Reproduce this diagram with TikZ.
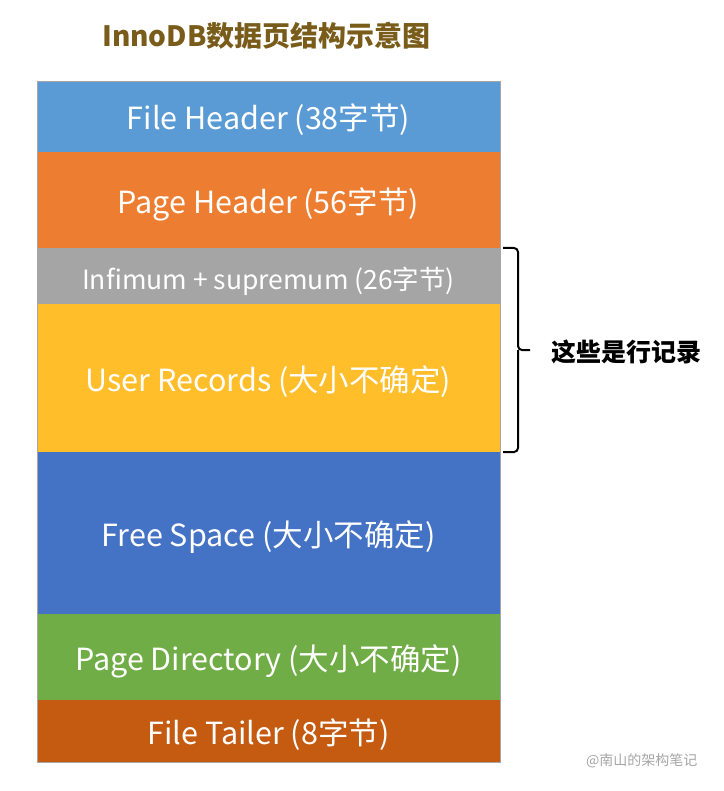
\documentclass[tikz,border=0pt]{standalone}
\usepackage{fontspec}
\setmainfont{Noto Sans CJK SC}
\usetikzlibrary{calc}
\begin{document}
\begin{tikzpicture}[x=1pt,y=-1pt,
  seg/.style={anchor=north west, minimum width=463pt, inner sep=0pt, outer sep=0pt, text=white, font=\fontsize{30.5}{34}\selectfont, text height=33pt, text depth=6pt},
  lbl/.style={font=\bfseries\fontsize{25}{28}\selectfont, text=black, anchor=west, inner sep=0pt}]
\useasboundingbox (0,0) rectangle (723,791);
\fill[white] (0,0) rectangle (723,791);
\node[font=\bfseries\fontsize{28}{31}\selectfont, text={rgb,255:red,122;green,92;blue,26}, inner sep=0pt] (title) at (266.5,36) {InnoDB数据页结构示意图};
\node[seg, fill={rgb,255:red,91;green,155;blue,213}, minimum height=71pt] (fh) at (37,81) {File Header (38字节)};
\node[seg, fill={rgb,255:red,237;green,125;blue,49}, minimum height=96pt] (ph) at (37,152) {Page Header (56字节)};
\node[seg, fill={rgb,255:red,165;green,165;blue,165}, minimum height=56pt, font=\fontsize{26.5}{30}\selectfont, text height=31pt, text depth=5pt] (inf) at (37,248) {Infimum + supremum (26字节)};
\node[seg, fill={rgb,255:red,255;green,190;blue,42}, minimum height=148pt] (ur) at (37,304) {User Records (大小不确定)};
\node[seg, fill={rgb,255:red,68;green,114;blue,196}, minimum height=162pt] (fs) at (37,452) {Free Space (大小不确定)};
\node[seg, fill={rgb,255:red,112;green,173;blue,71}, minimum height=86pt] (pd) at (37,614) {Page Directory (大小不确定)};
\node[seg, fill={rgb,255:red,197;green,90;blue,17}, minimum height=62pt] (ft) at (37,700) {File Tailer (8字节)};
\draw[gray!70, line width=0.6pt] (fh.north west) rectangle (ft.south east);
\coordinate (bt) at ([xshift=3pt]inf.north east);
\coordinate (bb) at ([xshift=3pt]ur.south east);
\draw[line width=2pt, rounded corners=4pt] (bt) -- ++(15,0) -- ($(bt)!0.5!(bb)+(15,0)$) -- ++(12,0);
\draw[line width=2pt, rounded corners=4pt] (bb) -- ++(15,0) -- ($(bt)!0.5!(bb)+(15,0)$);
\node[lbl] (rec) at (551,352) {这些是行记录};
\node[font=\fontsize{14}{16}\selectfont, text=gray!70, inner sep=0pt, anchor=west] (wm) at (586,761) {@南山的架构笔记};
\end{tikzpicture}
\end{document}
